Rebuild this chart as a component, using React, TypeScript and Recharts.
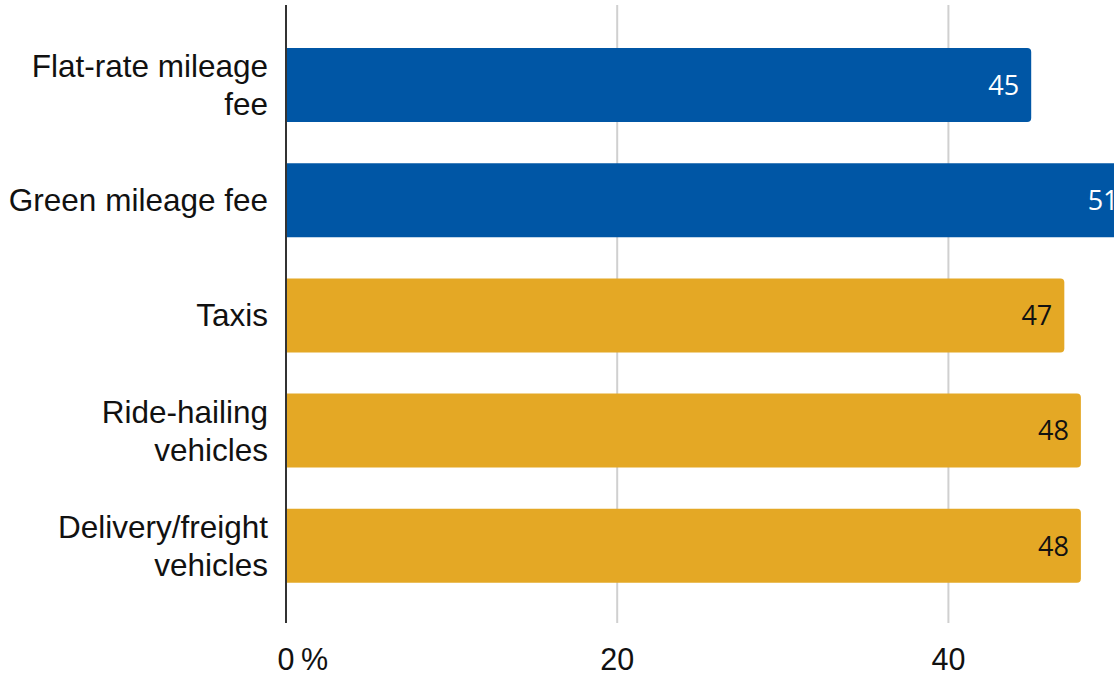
import React from 'react';
import { BarChart, Bar, XAxis, YAxis, CartesianGrid, Cell, LabelList } from 'recharts';

const categories = [
  'Flat-rate mileage\nfee',
  'Green mileage fee',
  'Taxis',
  'Ride-hailing\nvehicles',
  'Delivery/freight\nvehicles',
];
const values = [45, 51, 47, 48, 48];
const groups = ['fee', 'fee', 'vehicle', 'vehicle', 'vehicle'];
const xTicks = [0, 20, 40];

const BLUE = '#0056A5';
const GOLD = '#E4A825';
const FONT = "'Liberation Sans', Arial, sans-serif";

const data = categories.map((c, i) => ({ name: c, value: values[i], group: groups[i] }));

const CatTick = (props: any) => {
  const { x, y, payload } = props;
  const lines = String(payload.value).split('\n');
  const lh = 38;
  const n = lines.length;
  return (
    <g>
      {lines.map((l, i) => (
        <text
          key={i}
          x={x}
          y={y + (i - (n - 1) / 2) * lh}
          dy="0.36em"
          textAnchor="end"
          fontSize={31.5}
          fontFamily={FONT}
          fill="#111"
        >
          {l}
        </text>
      ))}
    </g>
  );
};

const NumTick = (props: any) => {
  const { x, y, payload } = props;
  const v = payload.value;
  return (
    <g>
      <text x={x} y={y} dy="0.71em" textAnchor="middle" fontSize={30.5} fontFamily={FONT} fill="#111">
        {v}
      </text>
      {v === 0 ? (
        <text x={x + 15} y={y} dy="0.71em" textAnchor="start" fontSize={30.5} fontFamily={FONT} fill="#111">
          %
        </text>
      ) : null}
    </g>
  );
};

const ValueLabel = (props: any) => {
  const { x, y, width, height, value, index } = props;
  const color = groups[index] === 'fee' ? '#ffffff' : '#111111';
  return (
    <text
      x={x + width - 12}
      y={y + height / 2}
      dy="0.36em"
      textAnchor="end"
      fontSize={27}
      fontFamily="'Open Sans', sans-serif"
      fill={color}
    >
      {value}
    </text>
  );
};

export default function App() {
  return (
    <div style={{ position: 'absolute', left: 0, top: 0, width: 1114, height: 674, overflow: 'hidden', background: '#fff' }}>
      <BarChart
        width={1114}
        height={674}
        data={data}
        layout="vertical"
        margin={{ top: 5, right: 0, bottom: 11, left: 0 }}
        barSize={74}
      >
        <CartesianGrid horizontal={false} verticalValues={[20, 40]} stroke="#d0d0d0" strokeWidth={2} />
        <XAxis
          type="number"
          domain={[0, 50]}
          ticks={xTicks}
          allowDataOverflow
          axisLine={false}
          tickLine={false}
          height={40}
          tickMargin={19}
          tick={<NumTick />}
        />
        <YAxis
          type="category"
          dataKey="name"
          width={286}
          axisLine={{ stroke: '#333', strokeWidth: 2 }}
          tickLine={false}
          tickMargin={12}
          padding={{ top: 22, bottom: 20 }}
          tick={<CatTick />}
          interval={0}
        />
        <Bar dataKey="value" isAnimationActive={false} radius={[0, 4, 4, 0]}>
          {data.map((d, i) => (
            <Cell key={i} fill={d.group === 'fee' ? BLUE : GOLD} />
          ))}
          <LabelList dataKey="value" content={<ValueLabel />} />
        </Bar>
      </BarChart>
    </div>
  );
}
